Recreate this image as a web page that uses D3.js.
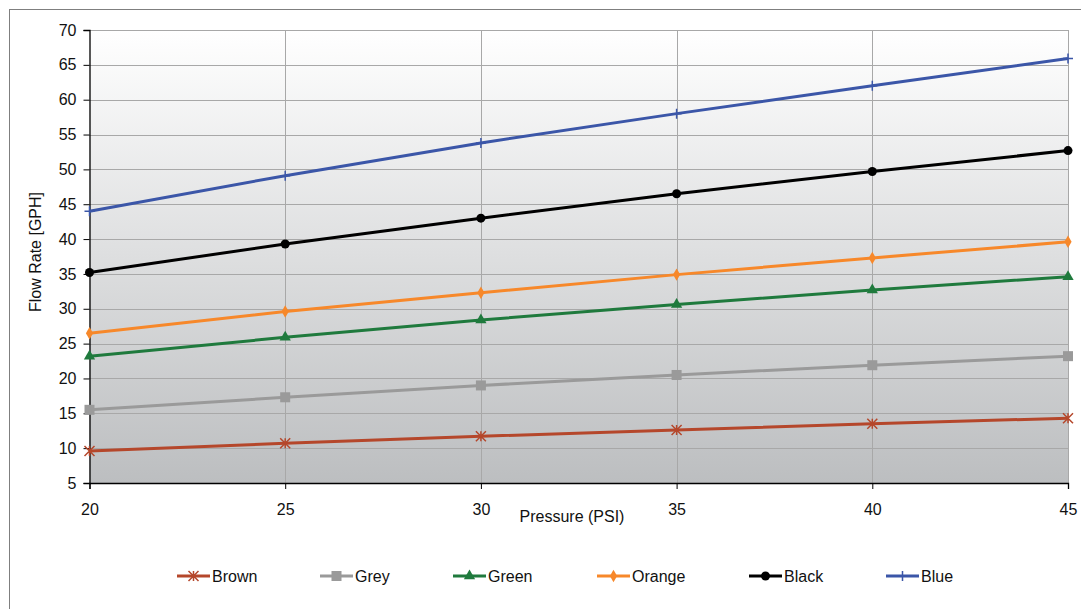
<!DOCTYPE html>
<html><head><meta charset="utf-8">
<script src="https://cdn.jsdelivr.net/npm/d3@7"></script>
<style>body{margin:0;background:#fff;}svg{display:block;font-family:"Liberation Sans",Arial,sans-serif;}</style>
</head><body><svg id="c" width="1081" height="609"></svg>
<script>
const pressures = [20, 25, 30, 35, 40, 45];
const brown  = [9.6, 10.7, 11.7, 12.6, 13.5, 14.3];
const grey   = [15.5, 17.3, 19.0, 20.5, 21.9, 23.2];
const green  = [23.2, 25.9, 28.4, 30.6, 32.7, 34.6];
const orange = [26.5, 29.6, 32.3, 34.9, 37.3, 39.6];
const black  = [35.2, 39.3, 43.0, 46.5, 49.7, 52.7];
const blue   = [44.0, 49.1, 53.8, 58.0, 62.0, 65.9];
const seriesNames = ["Brown","Grey","Green","Orange","Black","Blue"];
const yTicks = [5,10,15,20,25,30,35,40,45,50,55,60,65,70];

const series = [
  {name:"Brown", values:brown, color:"#b5472b", marker:"star"},
  {name:"Grey", values:grey, color:"#9a9a9a", marker:"square"},
  {name:"Green", values:green, color:"#1f7a3d", marker:"triangle"},
  {name:"Orange", values:orange, color:"#f7882a", marker:"diamond"},
  {name:"Black", values:black, color:"#000000", marker:"circle"},
  {name:"Blue", values:blue, color:"#3b56a8", marker:"cross"}
];

const svg = d3.select("#c");
const L=89.5, R=1068, T=30, B=483;
const x = d3.scaleLinear().domain([20,45]).range([L,R]);
const y = d3.scaleLinear().domain([5,70]).range([B,T]);

svg.append("rect").attr("x",9.5).attr("y",9.5).attr("width",1200).attr("height",700)
  .attr("fill","#fff").attr("stroke","#7f7f7f").attr("stroke-width",1);

const defs = svg.append("defs");
const g = defs.append("linearGradient").attr("id","bg").attr("x1",0).attr("y1",0).attr("x2",0).attr("y2",1);
g.append("stop").attr("offset","0%").attr("stop-color","#ffffff");
g.append("stop").attr("offset","100%").attr("stop-color","#bcbec0");
svg.append("rect").attr("x",L).attr("y",T).attr("width",R-L).attr("height",B-T).attr("fill","url(#bg)");

svg.append("g").selectAll("line").data(yTicks.filter(d=>d>5)).join("line")
  .attr("x1",L).attr("x2",R).attr("y1",d=>Math.round(y(d))+0.5).attr("y2",d=>Math.round(y(d))+0.5)
  .attr("stroke","#a8a8a8").attr("stroke-width",1);
svg.append("g").selectAll("line").data(pressures.slice(1)).join("line")
  .attr("x1",d=>Math.round(x(d))+0.5).attr("x2",d=>Math.round(x(d))+0.5).attr("y1",T).attr("y2",B)
  .attr("stroke","#a8a8a8").attr("stroke-width",1);

const yAxis = d3.axisLeft(y).tickValues(yTicks).tickSize(6).tickPadding(7).tickFormat(d3.format("d"));
const ya = svg.append("g").attr("transform",`translate(${L},0)`).call(yAxis);
const xAxis = d3.axisBottom(x).tickValues(pressures).tickSize(6).tickPadding(15).tickFormat(d3.format("d"));
const xa = svg.append("g").attr("transform",`translate(0,${B})`).call(xAxis);
[ya,xa].forEach(a=>{
  a.select(".domain").attr("stroke","#000").attr("stroke-width",1.3);
  a.selectAll(".tick line").attr("stroke","#000");
  a.selectAll("text").attr("font-size",16).attr("fill","#111").attr("font-family","Liberation Sans, Arial, sans-serif");
});

svg.append("text").attr("x",572).attr("y",522).attr("text-anchor","middle").attr("font-size",16).attr("fill","#111").text("Pressure (PSI)");
svg.append("text").attr("transform","translate(41,252) rotate(-90)").attr("text-anchor","middle").attr("font-size",16).attr("fill","#111").text("Flow Rate [GPH]");

function drawMarker(sel, type, color, cx, cy){
  if(type==="circle") sel.append("circle").attr("cx",cx).attr("cy",cy).attr("r",4.5).attr("fill",color);
  else if(type==="square") sel.append("rect").attr("x",cx-5).attr("y",cy-5).attr("width",10).attr("height",10).attr("fill",color);
  else if(type==="triangle") sel.append("path").attr("d",d3.symbol(d3.symbolTriangle,55)()).attr("transform",`translate(${cx},${cy})`).attr("fill",color);
  else if(type==="diamond") sel.append("path").attr("d",d3.symbol(d3.symbolDiamond,45)()).attr("transform",`translate(${cx},${cy})`).attr("fill",color);
  else if(type==="star"){
    const s=5;
    sel.append("path").attr("d",`M${cx-s},${cy-s}L${cx+s},${cy+s}M${cx-s},${cy+s}L${cx+s},${cy-s}M${cx},${cy-s}L${cx},${cy+s}`)
      .attr("stroke",color).attr("stroke-width",1.5).attr("fill","none");
  } else if(type==="cross"){
    const s=5;
    sel.append("path").attr("d",`M${cx-s},${cy}L${cx+s},${cy}M${cx},${cy-s}L${cx},${cy+s}`)
      .attr("stroke",color).attr("stroke-width",1.5).attr("fill","none");
  }
}

const line = d3.line().x((d,i)=>x(pressures[i])).y(d=>y(d));
series.forEach(s=>{
  const gs = svg.append("g");
  gs.append("path").attr("d",line(s.values)).attr("fill","none").attr("stroke",s.color).attr("stroke-width",3);
  s.values.forEach((v,i)=>drawMarker(gs,s.marker,s.color,x(pressures[i]),y(v)));
});

const legX = [177,320,453,597,749,886];
const ly = 576;
series.forEach((s,i)=>{
  const gl = svg.append("g");
  gl.append("line").attr("x1",legX[i]).attr("x2",legX[i]+33).attr("y1",ly).attr("y2",ly).attr("stroke",s.color).attr("stroke-width",3);
  drawMarker(gl,s.marker,s.color,legX[i]+16.5,ly);
  gl.append("text").attr("x",legX[i]+35).attr("y",ly+6).attr("font-size",16).attr("fill","#111").text(seriesNames[i]);
});
</script></body></html>
